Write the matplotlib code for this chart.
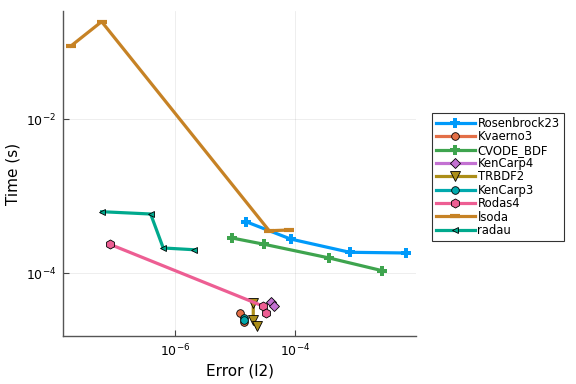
import matplotlib
matplotlib.use('Agg')
import matplotlib.pyplot as plt
from matplotlib.ticker import FixedLocator, LogFormatterMathtext, NullLocator

# work-precision data (error, time)
rosenbrock23_err = [10**-4.82, 10**-4.08, 10**-3.10, 10**-2.17]
rosenbrock23_t = [10**-3.33, 10**-3.555, 10**-3.727, 10**-3.736]

kvaerno3_err = [10**-4.92, 10**-4.86]
kvaerno3_t = [10**-4.52, 10**-4.63]

cvode_err = [10**-5.05, 10**-4.52, 10**-3.44, 10**-2.56]
cvode_t = [10**-3.542, 10**-3.623, 10**-3.801, 10**-3.966]

kencarp4_err = [10**-4.41, 10**-4.36]
kencarp4_t = [10**-4.37, 10**-4.425]

trbdf2_err = [10**-4.70, 10**-4.70, 10**-4.645]
trbdf2_t = [10**-4.386, 10**-4.606, 10**-4.688]

kencarp3_err = [10**-4.86, 10**-4.855]
kencarp3_t = [10**-4.584, 10**-4.60]

rodas4_err = [10**-7.08, 10**-4.54, 10**-4.49]
rodas4_t = [10**-3.623, 10**-4.425, 10**-4.512]

lsoda_err = [10**-7.725, 10**-7.216, 10**-4.436, 10**-4.114]
lsoda_t = [10**-1.048, 10**-0.732, 10**-3.447, 10**-3.438]

radau_err = [10**-7.216, 10**-6.403, 10**-6.194, 10**-5.68]
radau_t = [10**-3.20, 10**-3.23, 10**-3.671, 10**-3.694]

fig = plt.figure(figsize=(5.76, 3.84), dpi=100)
ax = fig.add_axes([63/576, 48/384, 353/576, 325/384])

lw = 2.3
edge = dict(markeredgecolor='black', markeredgewidth=0.6)

ax.plot(rosenbrock23_err, rosenbrock23_t, color='#009AFA', lw=lw, marker='P',
        markersize=7, markeredgewidth=0, label='Rosenbrock23')
ax.plot(kvaerno3_err, kvaerno3_t, color='#E36F47', lw=lw, marker='o',
        markersize=5.5, label='Kvaerno3', **edge)
ax.plot(cvode_err, cvode_t, color='#3EA44E', lw=lw, marker='P',
        markersize=7, markeredgewidth=0, label='CVODE_BDF')
ax.plot(kencarp4_err, kencarp4_t, color='#C371D2', lw=lw, marker='D',
        markersize=5, label='KenCarp4', **edge)
ax.plot(trbdf2_err, trbdf2_t, color='#AC8E18', lw=lw, marker='v',
        markersize=6.5, label='TRBDF2', **edge)
ax.plot(kencarp3_err, kencarp3_t, color='#00A9AD', lw=lw, marker='o',
        markersize=5.5, label='KenCarp3', **edge)
ax.plot(rodas4_err, rodas4_t, color='#ED5E93', lw=lw, marker='h',
        markersize=6.5, label='Rodas4', **edge)
ax.plot(lsoda_err, lsoda_t, color='#C68225', lw=lw, marker='_',
        markersize=7, markeredgewidth=3, label='lsoda')
ax.plot(radau_err, radau_t, color='#00A98D', lw=lw, marker='<',
        markersize=4.5, label='radau', **edge)

ax.set_xscale('log')
ax.set_yscale('log')
ax.set_xlim(10**-7.857, 10**-2.0)
ax.set_ylim(10**-4.814, 10**-0.594)

ax.xaxis.set_major_locator(FixedLocator([1e-6, 1e-4]))
ax.yaxis.set_major_locator(FixedLocator([1e-2, 1e-4]))
ax.xaxis.set_major_formatter(LogFormatterMathtext())
ax.yaxis.set_major_formatter(LogFormatterMathtext())
ax.xaxis.set_minor_locator(NullLocator())
ax.yaxis.set_minor_locator(NullLocator())
ax.tick_params(direction='in', length=4, width=0.8, color='#444444',
               labelsize=9, pad=5)
ax.grid(True, color='black', alpha=0.08, lw=0.6)

for side in ['top', 'right']:
    ax.spines[side].set_visible(False)
for side in ['left', 'bottom']:
    ax.spines[side].set_color('#555555')
    ax.spines[side].set_linewidth(1.0)

ax.set_xlabel('Error (l2)', fontsize=11, labelpad=3)
ax.set_ylabel('Time (s)', fontsize=11, labelpad=4)

leg = fig.legend(loc='upper left', bbox_to_anchor=(432/576, 1 - 113/384),
                 fontsize=8.4, frameon=True, fancybox=False, handlelength=3.3,
                 handletextpad=0.25, labelspacing=0.03, borderpad=0.35,
                 borderaxespad=0, markerscale=1.0)
leg.get_frame().set_edgecolor('black')
leg.get_frame().set_linewidth(0.8)

fig.savefig('out.png', dpi=100)
